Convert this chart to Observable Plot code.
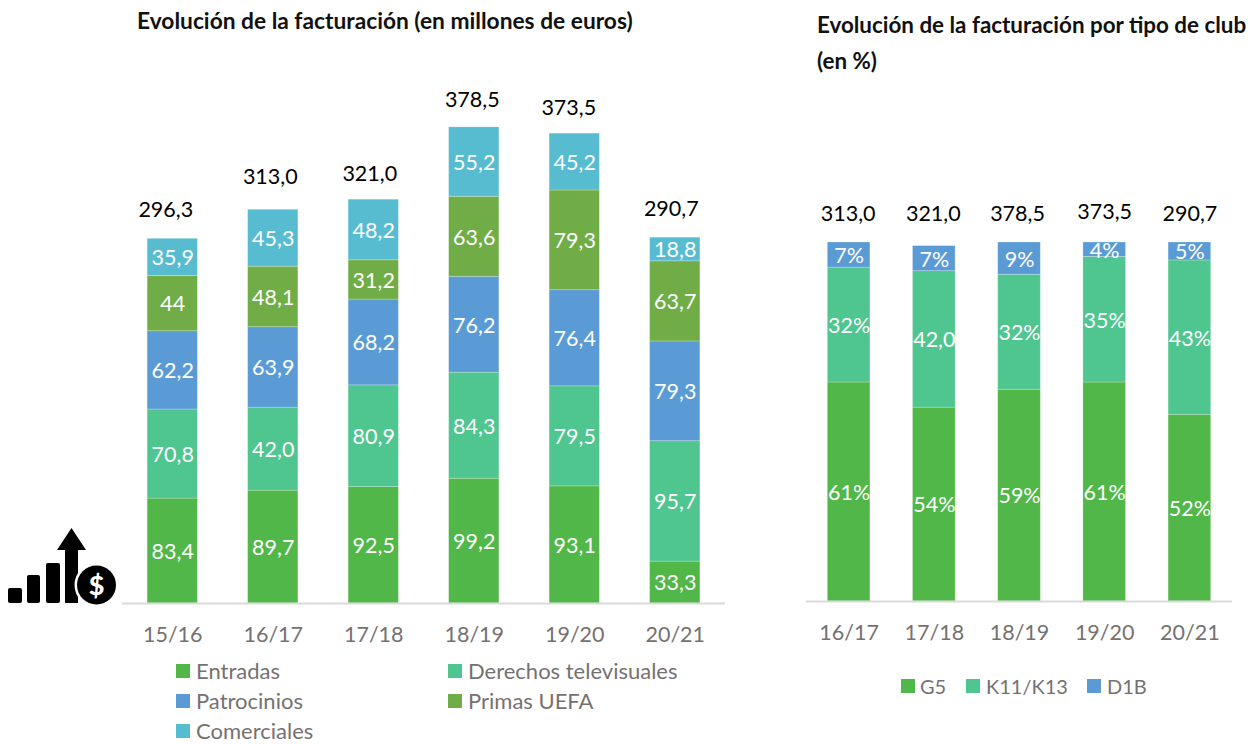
<!DOCTYPE html>
<html lang="es">
<head>
<meta charset="utf-8">
<title>Evolución de la facturación</title>
<script src="https://cdn.jsdelivr.net/npm/d3@7"></script>
<script src="https://cdn.jsdelivr.net/npm/@observablehq/plot@0.6"></script>
<style>
  html, body { margin: 0; padding: 0; background: #fff; }
  #page { position: relative; width: 1257px; height: 744px; overflow: hidden; font-family: Lato, sans-serif; }
  #page > div.chart { position: absolute; top: 0; }
  .title { position: absolute; font-weight: 700; color: #111; white-space: nowrap; line-height: 36px; }
  .lg { position: absolute; color: #767171; font-size: 22px; line-height: 22px; white-space: nowrap; }
  #legendRight .lg { font-size: 20px; }
  .lg i { position: absolute; width: 14px; height: 14px; top: 4px; }
  #icon { position: absolute; left: 0; top: 520px; }
</style>
</head>
<body>
<div id="page">
  <div class="chart" id="left" style="left:0"></div>
  <div class="chart" id="right" style="left:790px"></div>
  <div class="title" style="left:137px;top:3px;font-size:22.75px">Evolución de la facturación (en millones de euros)</div>
  <div class="title" style="left:817px;top:7px;font-size:22.4px">Evolución de la facturación por tipo de club<br>(en %)</div>
  <svg id="icon" width="120" height="90" viewBox="0 520 120 90" role="img" aria-label="icono">
    <rect x="8" y="588" width="14" height="15" rx="2"/>
    <rect x="27" y="575" width="13" height="28" rx="2"/>
    <rect x="46" y="563" width="14" height="40" rx="2"/>
    <path d="M65 603V550H57L71.500 528L86 550H78V603Z"/>
    <circle cx="96.500" cy="585" r="22" fill="#fff"/>
    <circle cx="96.500" cy="585" r="19.500"/>
    <text x="96.500" y="594.500" text-anchor="middle" fill="#fff" font-family="Lato" font-weight="900" font-size="27">$</text>
  </svg>
  <div id="legendLeft"></div>
  <div id="legendRight"></div>
</div>
<script>
// ---------- left chart data ----------
const seasons = ["15/16", "16/17", "17/18", "18/19", "19/20", "20/21"];
const revenueSeries = ["Entradas", "Derechos televisuales", "Patrocinios", "Primas UEFA", "Comerciales"];
const revenueColors = ["#50b748", "#4fc58f", "#5b9bd5", "#70ad47", "#58bcd1"];
// heights as drawn in the picture
const entradas   = [83.4, 89.7, 92.5, 99.2, 93.1, 33.3];
const derechos   = [70.8, 66.0, 80.9, 84.3, 79.5, 95.7];
const patrocinios= [62.2, 63.9, 68.2, 76.2, 76.4, 79.3];
const primas     = [44.0, 48.1, 31.2, 63.6, 79.3, 63.7];
const comerciales= [29.5, 45.3, 48.2, 55.2, 45.2, 18.8];
// labels as printed in the picture
const entradasLabels    = ["83,4", "89,7", "92,5", "99,2", "93,1", "33,3"];
const derechosLabels    = ["70,8", "42,0", "80,9", "84,3", "79,5", "95,7"];
const patrociniosLabels = ["62,2", "63,9", "68,2", "76,2", "76,4", "79,3"];
const primasLabels      = ["44", "48,1", "31,2", "63,6", "79,3", "63,7"];
const comercialesLabels = ["35,9", "45,3", "48,2", "55,2", "45,2", "18,8"];
const totalLabels = ["296,3", "313,0", "321,0", "378,5", "373,5", "290,7"];

// ---------- right chart data ----------
const seasonsClub = ["16/17", "17/18", "18/19", "19/20", "20/21"];
const clubSeries = ["G5", "K11/K13", "D1B"];
const clubColors = ["#50b748", "#4fc58f", "#5b9bd5"];
const g5   = [61, 54, 59, 61, 52];
const k11  = [32, 38, 32, 35, 43];
const d1b  = [7, 7, 9, 4, 5];
const g5Labels  = ["61%", "54%", "59%", "61%", "52%"];
const k11Labels = ["32%", "42,0", "32%", "35%", "43%"];
const d1bLabels = ["7%", "7%", "9%", "4%", "5%"];
const clubTotalLabels = ["313,0", "321,0", "378,5", "373,5", "290,7"];

// ---------- tables ----------
const table = (xs, names, values, labels) =>
  names.flatMap((s, k) => xs.map((x, i) => ({x, series: s, value: values[k][i], label: labels[k][i]})));

const leftRows = table(seasons, revenueSeries,
  [entradas, derechos, patrocinios, primas, comerciales],
  [entradasLabels, derechosLabels, patrociniosLabels, primasLabels, comercialesLabels]);
const leftTops = seasons.map((x, i) => ({
  x, label: totalLabels[i],
  y: entradas[i] + derechos[i] + patrocinios[i] + primas[i] + comerciales[i]
}));
const rightRows = table(seasonsClub, clubSeries, [g5, k11, d1b], [g5Labels, k11Labels, d1bLabels]);
const rightTops = seasonsClub.map((x, i) => ({x, label: clubTotalLabels[i], y: 100}));

// the source's hand-placed total labels sit slightly off centre
const leftNudge  = [[-7, -29], [-3, -33], [-4, -26], [-2, -27], [-6, -26], [-4, -29]];
const rightNudge = [[-1, -28], [-1, -28], [-2, -28], [0, -30], [0, -28]];

function stacked({rows, tops, nudge, xs, names, colors, width, height, ml, mr, mb, mt, ymax, tickPad, labelSize}) {
  return Plot.plot({
    width, height,
    marginLeft: ml, marginRight: mr, marginBottom: mb, marginTop: mt,
    style: {fontFamily: "Lato, sans-serif", background: "transparent", overflow: "visible"},
    x: {domain: xs, paddingInner: 0.5, paddingOuter: 0.25, round: false, label: null},
    y: {domain: [0, ymax], axis: null, label: null},
    color: {domain: names, range: colors},
    marks: [
      Plot.axisX({tickSize: 0, tickPadding: tickPad, fontSize: labelSize, fill: "#767171", label: null}),
      Plot.barY(rows, {x: "x", y: "value", z: "series", fill: "series", order: null,
        stroke: "#fff", strokeOpacity: 0.3, strokeWidth: 0.75}),
      Plot.ruleY([0], {stroke: "#d9d9d9", strokeWidth: 2}),
      Plot.text(rows, Plot.stackY({x: "x", y: "value", z: "series", order: null, text: "label",
        fill: "#fff", fontSize: labelSize, dy: 1})),
      ...tops.map((d, i) => Plot.text([d], {x: "x", y: "y", text: "label", fill: "#000",
        fontSize: labelSize, dx: nudge[i][0], dy: nudge[i][1]}))
    ]
  });
}

document.getElementById("left").append(stacked({
  rows: leftRows, tops: leftTops, nudge: leftNudge, xs: seasons, names: revenueSeries, colors: revenueColors,
  width: 780, height: 660, ml: 122, mr: 55, mb: 57, mt: 603 - 400 * 1.258, ymax: 400, tickPad: 23, labelSize: 21.5
}));
document.getElementById("right").append(stacked({
  rows: rightRows, tops: rightTops, nudge: rightNudge, xs: seasonsClub, names: clubSeries, colors: clubColors,
  width: 467, height: 660, ml: 16, mr: 25, mb: 59, mt: 242, ymax: 100, tickPad: 23, labelSize: 21.5
}));

// ---------- legends ----------
function legend(hostId, names, colors, places) {
  const host = document.getElementById(hostId);
  names.forEach((n, i) => {
    const el = document.createElement("div");
    el.className = "lg";
    el.style.left = places[i][0] + "px";
    el.style.top = places[i][1] + "px";
    el.style.paddingLeft = places[i][2] + "px";
    el.textContent = n;
    const sw = document.createElement("i");
    sw.style.left = "0";
    sw.style.background = colors[i];
    el.prepend(sw);
    host.append(el);
  });
}
legend("legendLeft", revenueSeries, revenueColors,
  [[176, 660, 20], [448, 660, 20], [176, 690, 20], [448, 690, 20], [176, 720, 20]]);
legend("legendRight", clubSeries, clubColors,
  [[901, 675, 19], [966, 675, 20], [1087, 675, 20]]);
</script>
</body>
</html>
